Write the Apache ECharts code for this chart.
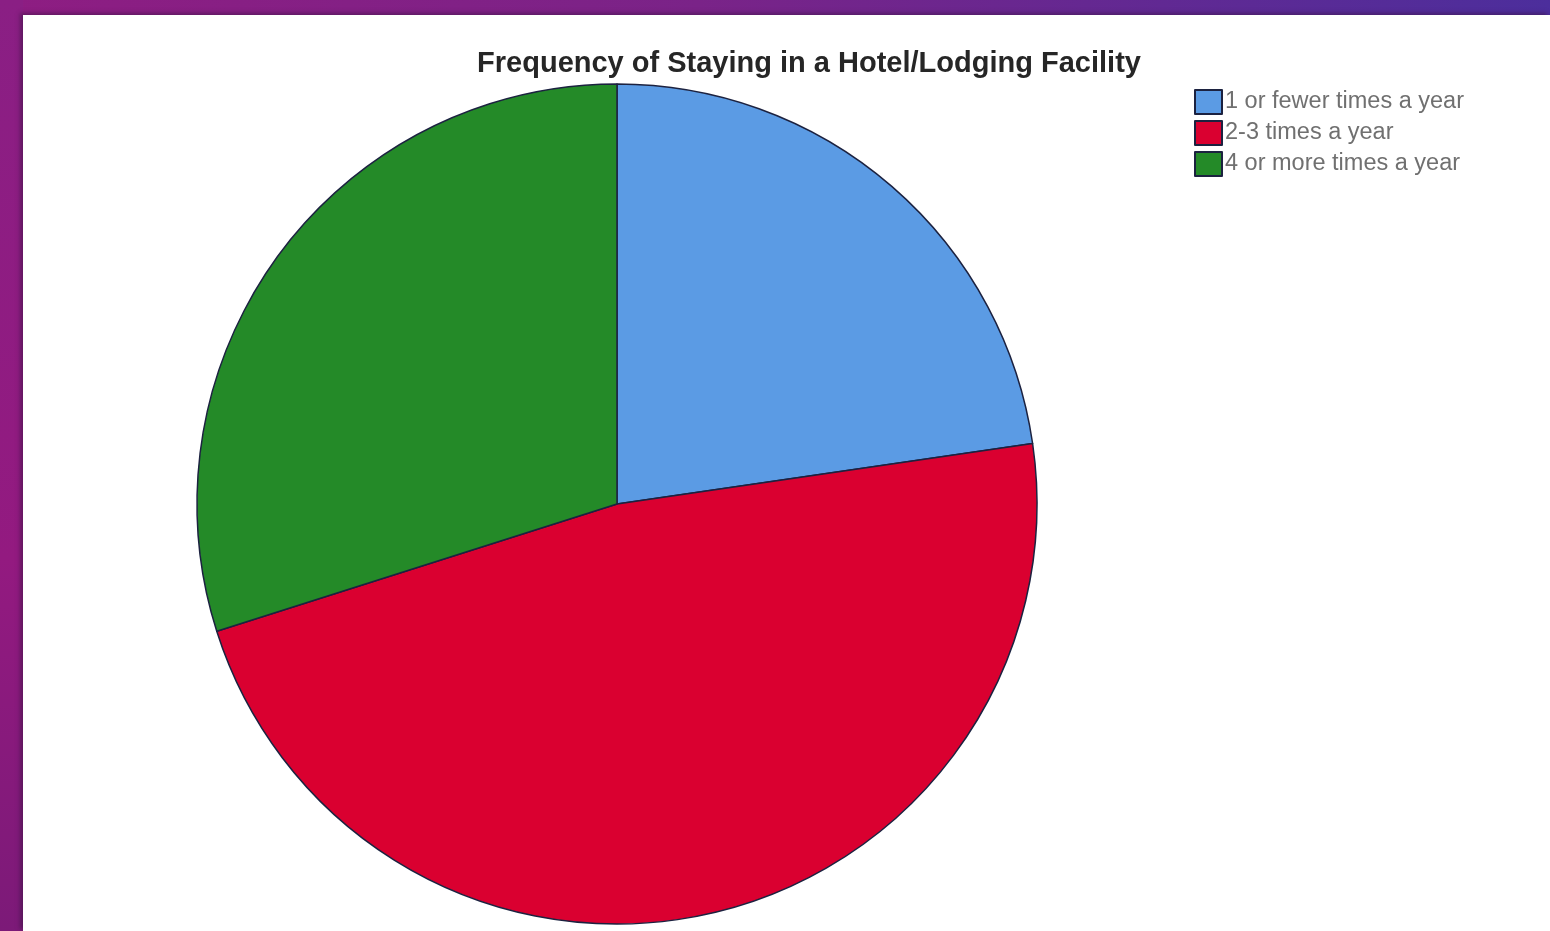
<!DOCTYPE html>
<html>
<head>
<meta charset="utf-8">
<title>Frequency of Staying in a Hotel/Lodging Facility</title>
<script src="https://cdn.jsdelivr.net/npm/echarts@6/dist/echarts.min.js"></script>
<style>
  html, body { margin: 0; padding: 0; width: 1550px; height: 931px; overflow: hidden; }
  body { background: linear-gradient(90deg, #8e1d82 0%, #7a2388 45%, #4c2e9c 100%); position: relative; }
  #side { position: absolute; left: 0; top: 0; width: 23px; height: 931px;
          background: linear-gradient(180deg, #8a1f84 0%, #931a80 60%, #7c1a78 100%); }
  #chart { position: absolute; left: 23px; top: 15px; width: 1527px; height: 916px; background: #ffffff;
           box-shadow: -3px -2px 4px rgba(60, 20, 70, 0.55); }
</style>
</head>
<body>
<div id="side"></div>
<div id="chart"></div>
<script>
// Survey answers: how often respondents stay in a hotel or lodging facility (share of respondents, %)
const categories = ['1 or fewer times a year', '2-3 times a year', '4 or more times a year'];
const shares = [22.7, 47.4, 29.9];
const sliceColors = ['#5b9be4', '#da0030', '#248a28'];
const chartTitle = 'Frequency of Staying in a Hotel/Lodging Facility';

const chart = echarts.init(document.getElementById('chart'), null, { renderer: 'canvas' });

chart.setOption({
  animation: false,
  backgroundColor: '#ffffff',
  title: {
    text: chartTitle,
    left: 781,
    top: 29,
    textAlign: 'center',
    textStyle: {
      fontFamily: 'Liberation Sans, Arial, sans-serif',
      fontSize: 29,
      fontWeight: 'bold',
      color: '#262626'
    }
  },
  legend: {
    orient: 'vertical',
    left: 1166,
    top: 69,
    padding: 5,
    icon: 'rect',
    itemWidth: 27,
    itemHeight: 24,
    itemGap: 5,
    selectedMode: false,
    textStyle: {
      fontFamily: 'Liberation Sans, Arial, sans-serif',
      fontSize: 23.5,
      lineHeight: 24,
      color: '#707070',
      padding: [0, 0, 0, -2]
    },
    data: categories
  },
  series: [{
    type: 'pie',
    center: [594, 489],
    radius: [0, 420],
    startAngle: 90,
    clockwise: true,
    label: { show: false },
    labelLine: { show: false },
    emphasis: { disabled: true },
    itemStyle: { borderColor: '#1c2240', borderWidth: 1.5 },
    data: categories.map((name, i) => ({
      name: name,
      value: shares[i],
      itemStyle: { color: sliceColors[i] }
    }))
  }]
});
</script>
</body>
</html>
